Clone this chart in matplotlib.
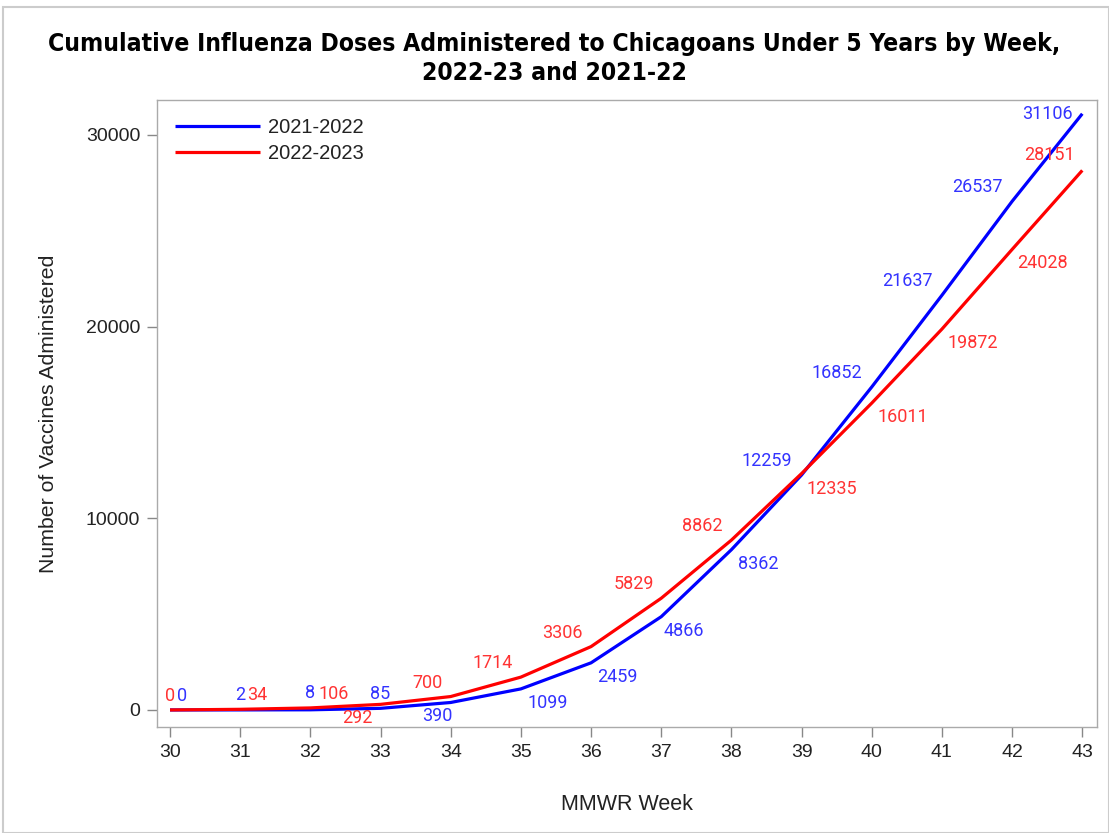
import matplotlib.pyplot as plt
from matplotlib.patches import Rectangle

# weekly cumulative doses, MMWR weeks 30-43
weeks = list(range(30, 44))
doses_2122 = [0, 2, 8, 85, 390, 1099, 2459, 4866, 8362, 12259, 16852, 21637, 26537, 31106]
doses_2223 = [0, 34, 106, 292, 700, 1714, 3306, 5829, 8862, 12335, 16011, 19872, 24028, 28151]

# label offsets (points) roughly matching the original label placement
off_2122 = [(9, 10), (0, 11), (0, 12), (0, 10), (-10, -10), (19, -10), (19, -10),
            (16, -10), (19, -10), (-25, 10), (-25, 10), (-25, 10), (-25, 10), (-25, 0)]
off_2223 = [(0, 10), (12, 10), (17, 10), (-17, -10), (-17, 10), (-20, 10), (-21, 10),
            (-20, 10), (-21, 10), (22, -11), (22, -10), (22, -10), (22, -10), (-24, 11)]

plt.rcParams['font.family'] = ['Liberation Sans', 'DejaVu Sans']

fig = plt.figure(figsize=(11.09, 8.33), dpi=100)
ax = fig.add_axes([0.1416, 0.1273, 0.8476, 0.7527])

ax.plot(weeks, doses_2122, color='#0000ff', lw=2.3, label='2021-2022', solid_capstyle='butt')
ax.plot(weeks, doses_2223, color='#ff0000', lw=2.3, label='2022-2023', solid_capstyle='butt')

for w, v, (dx, dy) in zip(weeks, doses_2122, off_2122):
    ax.annotate(str(v), (w, v), xytext=(dx, dy), textcoords='offset points',
                ha='center', va='center', color='#3333ff', fontsize=13, family='Roboto')
for w, v, (dx, dy) in zip(weeks, doses_2223, off_2223):
    ax.annotate(str(v), (w, v), xytext=(dx, dy), textcoords='offset points',
                ha='center', va='center', color='#ff3333', fontsize=13, family='Roboto')

ax.set_xlim(29.815, 43.21)
ax.set_ylim(-887, 31826)
ax.set_xticks(weeks)
ax.set_yticks([0, 10000, 20000, 30000])
ax.tick_params(axis='both', direction='out', length=7, width=1, color='#888888',
               labelsize=14, labelcolor='#222222', pad=5)
for s in ax.spines.values():
    s.set_color('#aaaaaa')
    s.set_linewidth(1)

ax.set_xlabel('MMWR Week', fontsize=15.5, color='#222222', labelpad=24)
ax.set_ylabel('Number of Vaccines Administered', fontsize=15.3, color='#222222', labelpad=20)

ax.legend(loc='upper left', frameon=False, fontsize=14.5, handlelength=4.2,
          handletextpad=0.4, labelspacing=0.35, borderaxespad=0.5,
          labelcolor='#222222', bbox_to_anchor=(0.0, 1.0))

fig.suptitle('Cumulative Influenza Doses Administered to Chicagoans Under 5 Years by Week,\n2022-23 and 2021-22',
             fontsize=17.75, fontweight='bold', fontstretch='condensed',
             family=['DejaVu Sans'], y=0.962, linespacing=1.3)

# light border around the whole graphic
fig.patches.append(Rectangle((3 / 1109, 0), 1 - 3 / 1109, 1 - 7 / 833, transform=fig.transFigure,
                             fill=False, edgecolor='#cccccc', lw=1.5))

fig.savefig('out.png', dpi=100)
